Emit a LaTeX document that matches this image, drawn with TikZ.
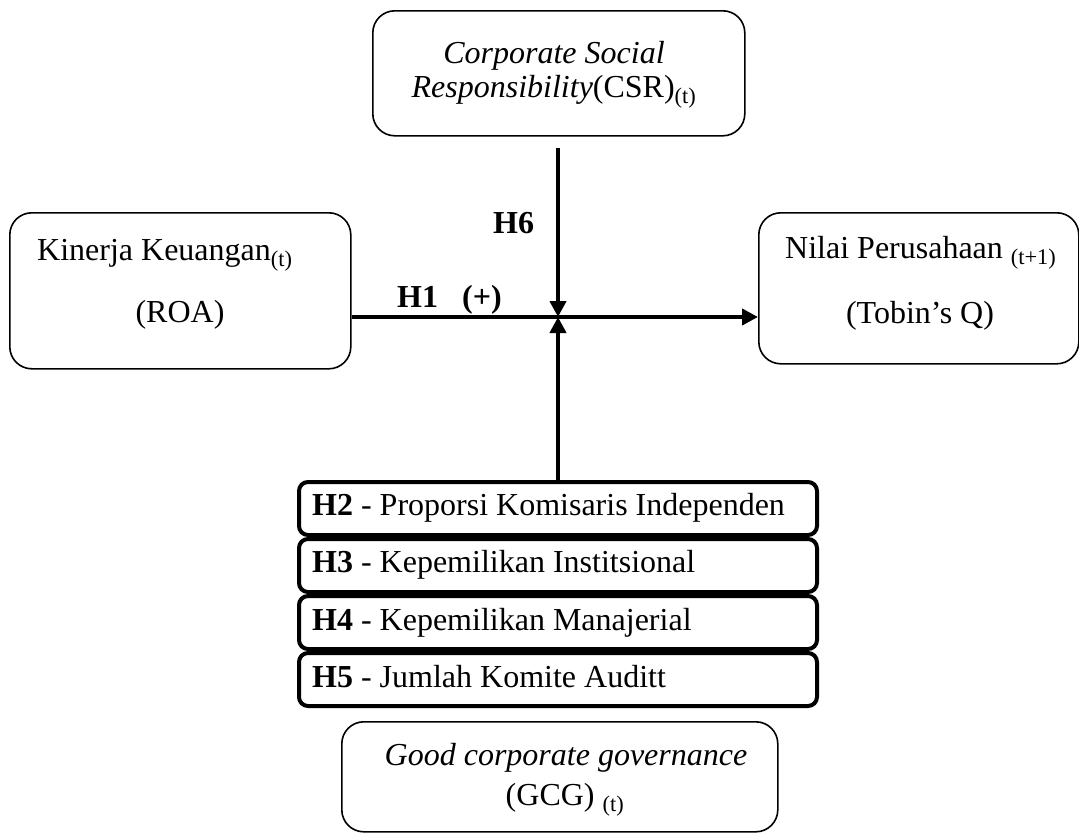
\documentclass[tikz,border=0pt]{standalone}
\usepackage{fontspec}
\setmainfont{Liberation Serif}
\usetikzlibrary{arrows.meta}
\begin{document}
\begin{tikzpicture}[x=1pt,y=-1pt,
  txt/.style={font=\fontsize{32}{36}\selectfont, inner sep=0pt},
  bigbox/.style={draw, line width=1.6pt, rounded corners=22pt, inner sep=0pt, anchor=north west},
  hbox/.style={draw, line width=4pt, rounded corners=9pt, inner sep=0pt, anchor=north west, minimum width=518pt, minimum height=53pt},
  conn/.style={line width=4pt, -{Triangle[length=16pt,width=16pt]}},
]
\useasboundingbox (0,0) rectangle (1079,833);

% boxes
\node[bigbox, minimum width=372pt, minimum height=125pt] (csr) at (372,10) {};
\node[bigbox, minimum width=341pt, minimum height=156pt] (kin) at (9,212) {};
\node[bigbox, minimum width=320pt, minimum height=151pt] (nil) at (758,212) {};
\node[hbox] (h2box) at (297,480) {};
\node[hbox] (h3box) at (297,537) {};
\node[hbox] (h4box) at (297,594) {};
\node[hbox] (h5box) at (297,651) {};
\node[bigbox, minimum width=436pt, minimum height=110pt] (gcg) at (341,721) {};

% texts
\node[txt, anchor=base] (csr1) at (554,63) {\textit{Corporate Social}};
\node[txt, anchor=base] (csr2) at (554,97) {\textit{Responsibility}(CSR)\textsubscript{(t)}};
\node[txt, anchor=base west] (kin1) at (37,260) {Kinerja Keuangan\textsubscript{(t)}};
\node[txt, anchor=base] (kin2) at (180,322) {(ROA)};
\node[txt, anchor=base west] (nil1) at (785,258) {Nilai Perusahaan \textsubscript{(t+1)}};
\node[txt, anchor=base] (nil2) at (920,323) {(Tobin’s Q)};
\node[txt, anchor=base west] (h2t) at (312,515) {\textbf{H2} - Proporsi Komisaris Independen};
\node[txt, anchor=base west] (h3t) at (312,572) {\textbf{H3} - Kepemilikan Institsional};
\node[txt, anchor=base west] (h4t) at (312,630) {\textbf{H4} - Kepemilikan Manajerial};
\node[txt, anchor=base west] (h5t) at (312,687) {\textbf{H5} - Jumlah Komite Auditt};
\node[txt, anchor=base] (gcg1) at (566,765) {\textit{Good corporate governance}};
\node[txt, anchor=base] (gcg2) at (565,805) {(GCG) \textsubscript{(t)}};

% connector labels
\node[txt, anchor=base west] (lh6) at (493,233) {\textbf{H6}};
\node[txt, anchor=base west] (lh1) at (397,307) {\textbf{H1}};
\node[txt, anchor=base west] (lplus) at (462,307) {\textbf{(+)}};

% connectors
\coordinate (X) at (558,317);
\coordinate (csrS) at (558,148);
\draw[conn] (kin.east |- X) -- (nil.west |- X);
\draw[conn] (csrS) -- (X);
\draw[conn] (h2box.north -| X) -- (X);
\end{tikzpicture}
\end{document}
